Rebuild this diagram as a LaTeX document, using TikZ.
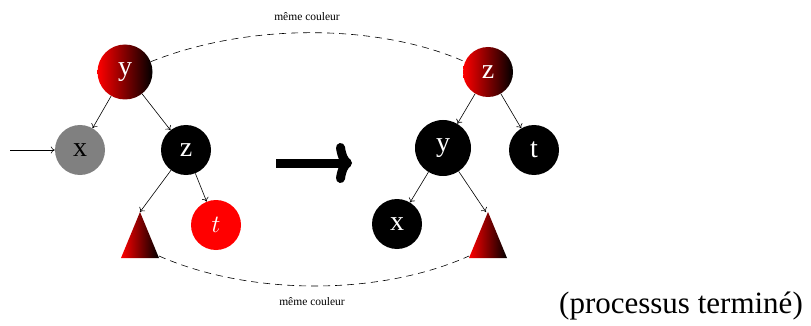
\documentclass[tikz,border=0pt]{standalone}
\usepackage{fontspec}
\setmainfont{Liberation Serif}
\usetikzlibrary{arrows.meta,shapes.geometric}
\begin{document}
\begin{tikzpicture}[x=1pt,y=-1pt,
  nd/.style={circle,inner sep=0pt,minimum size=50pt,font=\fontsize{28}{28}\selectfont},
  rb/.style={nd,shading=axis,left color=red,right color=black,text=white},
  bk/.style={nd,fill=black,text=white},
  gr/.style={nd,fill=gray,text=black},
  rd/.style={nd,fill=red,text=white},
  edge/.style={-{To[length=4pt,width=7pt]},line width=0.6pt},
  samecol/.style={dashed,dash pattern=on 7pt off 5pt,line width=0.6pt},
  lab/.style={font=\fontsize{11.5}{11.5}\selectfont}]
\useasboundingbox (0,0) rectangle (811,326);
% left tree
\node[rb,minimum size=55pt] (ly) at (125,72) {y};
\node[gr] (lx) at (80,150) {x};
\node[bk] (lz) at (186,150) {z};
\node[rd] (lt) at (216,225) {$t$};
\path[shading=axis,left color=red,right color=black] (140,212) -- (159,258) -- (121,258) -- cycle;
\coordinate (ltri) at (140,212);
\coordinate (ltriR) at (159,256);
\coordinate (in) at (10,150);
\draw[edge] (in) -- (lx);
\draw[edge] (ly) -- (lx);
\draw[edge] (ly) -- (lz);
\draw[edge] (lz) -- (ltri);
\draw[edge] (lz) -- (lt);
% big arrow
\coordinate (ba) at (276,163);
\coordinate (bb) at (352,163);
\draw[line width=9pt,-{To[length=16pt,width=40pt,round]}] (ba) -- (bb);
% right tree
\node[rb] (rz) at (488,72) {z};
\node[bk,minimum size=56pt] (ry) at (443,148) {y};
\node[bk] (rt) at (534,150) {t};
\node[bk] (rx) at (397,224) {x};
\path[shading=axis,left color=red,right color=black] (488,212) -- (507,258) -- (469,258) -- cycle;
\coordinate (rtri) at (486,212);
\coordinate (rtriL) at (469,256);
\draw[edge] (rz) -- (ry);
\draw[edge] (rz) -- (rt);
\draw[edge] (ry) -- (rx);
\draw[edge] (ry) -- (rtri);
% same colour links
\draw[samecol] (ly) .. controls (250,22) and (380,24) .. (rz);
\draw[samecol] (ltriR) .. controls (250,296) and (380,296) .. (rtriL);
\node[lab] (t1) at (307,17) {même couleur};
\node[lab] (t2) at (312,302) {même couleur};
\node[font=\fontsize{31}{31}\selectfont] (pt) at (681,306) {(processus terminé)};
\end{tikzpicture}
\end{document}
